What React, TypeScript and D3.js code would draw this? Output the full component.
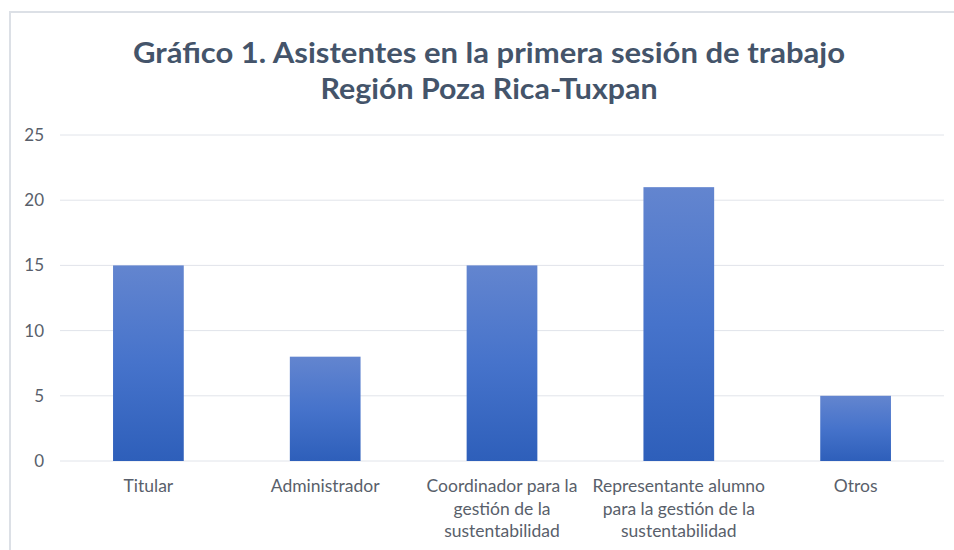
import React from "react";
import * as d3 from "d3";

// chart data
const categories = [
  "Titular",
  "Administrador",
  "Coordinador para la\ngestión de la\nsustentabilidad",
  "Representante alumno\npara la gestión de la\nsustentabilidad",
  "Otros",
];
const values = [15, 8, 15, 21, 5];
const yTicks = [0, 5, 10, 15, 20, 25];
const titleLines = [
  "Gráfico 1. Asistentes en la primera sesión de trabajo",
  "Región Poza Rica-Tuxpan",
];

const W = 954;
const H = 550;
const plot = { left: 60, right: 944, top: 135, bottom: 461 };
const font = "Lato, 'Open Sans', sans-serif";

export default function App() {
  const x = d3
    .scaleBand<string>()
    .domain(categories)
    .range([plot.left, plot.right])
    .paddingInner(0.6)
    .paddingOuter(0.3);

  const y = d3.scaleLinear().domain([0, 25]).range([plot.bottom, plot.top]);

  return (
    <svg
      width={W}
      height={H}
      style={{ position: "absolute", left: 0, top: 0, background: "#fff" }}
    >
      <defs>
        <linearGradient id="barGrad" x1="0" y1="0" x2="0" y2="1">
          <stop offset="0%" stopColor="#6385CF" />
          <stop offset="50%" stopColor="#4673CB" />
          <stop offset="100%" stopColor="#2E5FBA" />
        </linearGradient>
      </defs>

      {/* chart border */}
      <path d={`M10,${H} V12 H${W}`} fill="none" stroke="#DCE0E6" strokeWidth={2} />

      {/* title */}
      {titleLines.map((t, i) => (
        <text
          key={i}
          x={489}
          y={63 + i * 36}
          textAnchor="middle"
          fontFamily={font}
          fontWeight="bold"
          fontSize={28}
          fill="#44546A"
          textLength={i === 0 ? 712 : 337}
          lengthAdjust="spacingAndGlyphs"
        >
          {t}
        </text>
      ))}

      {/* gridlines */}
      {yTicks.map((t) => (
        <line
          key={t}
          x1={plot.left}
          x2={plot.right}
          y1={y(t)}
          y2={y(t)}
          stroke="#E1E4EA"
          strokeWidth={1}
        />
      ))}

      {/* y tick labels */}
      {yTicks.map((t) => (
        <text
          key={t}
          x={44}
          y={y(t)}
          dy="0.35em"
          textAnchor="end"
          fontFamily={font}
          fontSize={17}
          fill="#595F6B"
        >
          {t}
        </text>
      ))}

      {/* bars */}
      {categories.map((c, i) => (
        <rect
          key={c}
          x={x(c)}
          y={y(values[i])}
          width={x.bandwidth()}
          height={y(0) - y(values[i])}
          fill="url(#barGrad)"
        />
      ))}

      {/* category labels */}
      {categories.map((c) => (
        <text
          key={c}
          x={(x(c) ?? 0) + x.bandwidth() / 2}
          y={492}
          textAnchor="middle"
          fontFamily={font}
          fontSize={17.5}
          fill="#595F6B"
        >
          {c.split("\n").map((line, j) => (
            <tspan key={j} x={(x(c) ?? 0) + x.bandwidth() / 2} dy={j === 0 ? 0 : 22.5}>
              {line}
            </tspan>
          ))}
        </text>
      ))}
    </svg>
  );
}
